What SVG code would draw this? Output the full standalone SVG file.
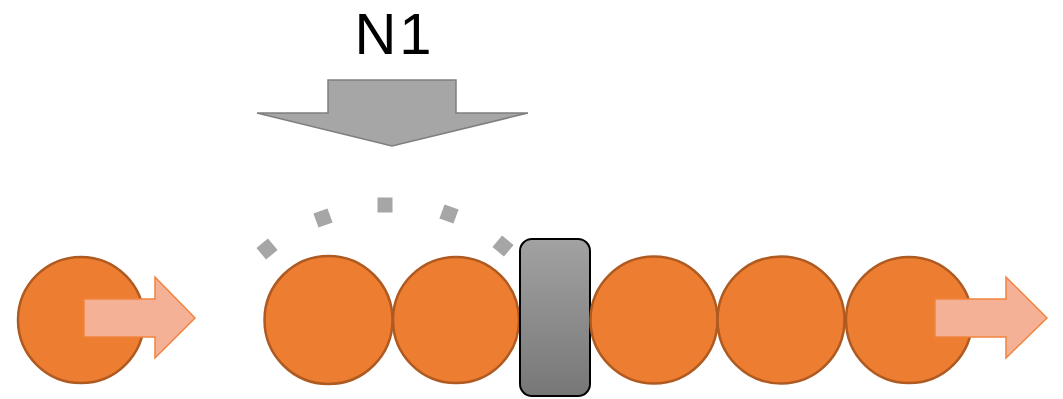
<svg xmlns="http://www.w3.org/2000/svg" width="1063" height="399" viewBox="0 0 1063 399">
<defs>
<linearGradient id="blk" x1="0" y1="0" x2="0" y2="1">
<stop offset="0" stop-color="#a2a2a2"/>
<stop offset="1" stop-color="#777777"/>
</linearGradient>
<style>
.ball{fill:#ed7d31;stroke:#ae5a21;stroke-width:2.5}
.rarrow{fill:#f4b196;stroke:#f0843f;stroke-width:1.5;stroke-linejoin:miter}
.dot{fill:#a6a6a6}
.label{font-family:"Liberation Sans",Arial,sans-serif;font-size:58px;fill:#000}
</style>
</defs>
<rect width="1063" height="399" fill="#ffffff"/>
<g id="label-N1"><text class="label" x="393" y="53.5" text-anchor="middle" textLength="77" lengthAdjust="spacing">N1</text></g>
<g id="force-arrow">
<polygon points="328,80 456,80 456,113 528,113 392,146 257,113 328,113" fill="#a6a6a6" stroke="#7f7f7f" stroke-width="1.5"/>
</g>
<g id="arc-dots">
<rect class="dot" x="-7.5" y="-7.5" width="15" height="15" transform="translate(267,249) rotate(-40)"/>
<rect class="dot" x="-7.5" y="-7.5" width="15" height="15" transform="translate(323,218) rotate(-20)"/>
<rect class="dot" x="-7.5" y="-7.5" width="15" height="15" transform="translate(385,205)"/>
<rect class="dot" x="-7.5" y="-7.5" width="15" height="15" transform="translate(449,214) rotate(20)"/>
<rect class="dot" x="-7.5" y="-7.5" width="15" height="15" transform="translate(503,246) rotate(40)"/>
</g>
<g id="ball-0"><circle class="ball" cx="81" cy="320" r="63"/></g>
<g id="arrow-in"><polygon class="rarrow" points="84,299 155,299 155,277 195,318 155,358 155,337 84,337"/></g>
<g id="ball-1"><circle class="ball" cx="328.5" cy="320" r="64"/></g>
<g id="ball-2"><circle class="ball" cx="456" cy="320" r="63"/></g>
<g id="block"><rect x="520" y="239" width="70" height="157" rx="12" ry="12" fill="url(#blk)" stroke="#000" stroke-width="2"/></g>
<g id="ball-3"><circle class="ball" cx="654" cy="320" r="63.5"/></g>
<g id="ball-4"><circle class="ball" cx="781" cy="320" r="63.5"/></g>
<g id="ball-5"><circle class="ball" cx="909" cy="320" r="63"/></g>
<g id="arrow-out"><polygon class="rarrow" points="935,299 1006,299 1006,277 1047,318 1006,358 1006,337 935,337"/></g>
<g id="connectors"></g>
</svg>
